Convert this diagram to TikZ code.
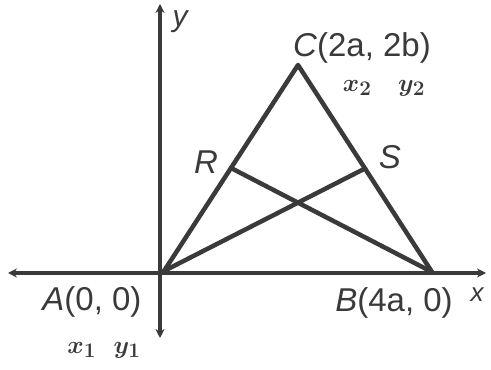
\documentclass[tikz,border=0pt]{standalone}
\usepackage{fontspec}
\setmainfont{Liberation Sans}
\usetikzlibrary{arrows.meta,calc}
\definecolor{ink}{HTML}{3A3A3A}
\tikzset{
  edge/.style={draw=ink,line width=4.5pt,line cap=round,line join=round},
  axis/.style={draw=ink,line width=3.5pt,{Stealth[length=9pt,width=9pt]}-{Stealth[length=9pt,width=9pt]}},
  lbl/.style={text=ink,inner sep=0pt,font=\fontsize{33}{36}\selectfont},
  hand/.style={text=ink,inner sep=0pt,font=\fontsize{32}{34}\selectfont\boldmath}
}
\begin{document}
\begin{tikzpicture}[x=1pt,y=1pt]
\useasboundingbox[fill=white] (0,0) rectangle (491,370);
% axes
\coordinate (xl) at (8,97);
\coordinate (xr) at (486,97);
\coordinate (yb) at (160,32);
\coordinate (yt) at (160,366);
\draw[axis] (xl) -- (xr);
\draw[axis] (yb) -- (yt);
% vertices
\coordinate (A) at (164,99);
\coordinate (B) at (432,98);
\coordinate (C) at (298,305);
\coordinate (R) at ($(A)!0.5!(C)$);
\coordinate (S) at ($(B)!0.5!(C)$);
\draw[edge] (A) -- (C) -- (B);
\draw[edge] (A) -- (S);
\draw[edge] (B) -- (R);
% labels
\node[lbl] (lA) at (92,68) {\textit{A}(0, 0)};
\node[lbl] (lB) at (394,67) {\textit{B}(4a, 0)};
\node[lbl] (lC) at (362,322) {\textit{C}(2a, 2b)};
\node[lbl] (lR) at (206,208) {\textit{R}};
\node[lbl] (lS) at (390,213) {\textit{S}};
\node[lbl,font=\fontsize{26}{28}\selectfont\itshape] (lx) at (477,75) {x};
\node[lbl,font=\fontsize{30}{32}\selectfont\itshape] (ly) at (180,348) {y};
\node[hand] (h1) at (104,20) {$x_1\ \ y_1$};
\node[hand] (h2) at (384,282) {$x_2\ \ \ y_2$};
\end{tikzpicture}
\end{document}
